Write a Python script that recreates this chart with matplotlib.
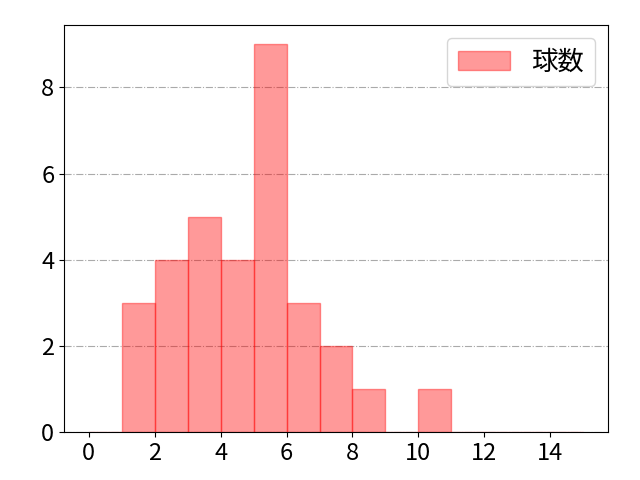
import matplotlib
matplotlib.use("Agg")
import matplotlib.pyplot as plt
import numpy as np

plt.rcParams['font.family'] = ['Noto Sans CJK JP', 'DejaVu Sans']
plt.rcParams['font.size'] = 17

bin_edges = list(range(0, 16))
counts = [0, 3, 4, 5, 4, 9, 3, 2, 1, 0, 1, 0, 0, 0, 0]
label = "球数"

fig, ax = plt.subplots(figsize=(6.4, 4.8), dpi=100)
fig.subplots_adjust(left=0.1, right=0.95, top=0.948, bottom=0.1)
centers = np.array(bin_edges[:-1]) + 0.5
ax.hist(centers, bins=bin_edges, weights=counts, color='red', alpha=0.4,
        edgecolor='red', linewidth=1, label=label)
ax.set_axisbelow(True)
ax.grid(axis='y', linestyle='-.', color='#aaaaaa', linewidth=0.8)
ax.set_xticks([0, 2, 4, 6, 8, 10, 12, 14])
ax.set_yticks([0, 2, 4, 6, 8])
ax.legend(loc='upper right', fontsize=19)
fig.savefig('out.png')
